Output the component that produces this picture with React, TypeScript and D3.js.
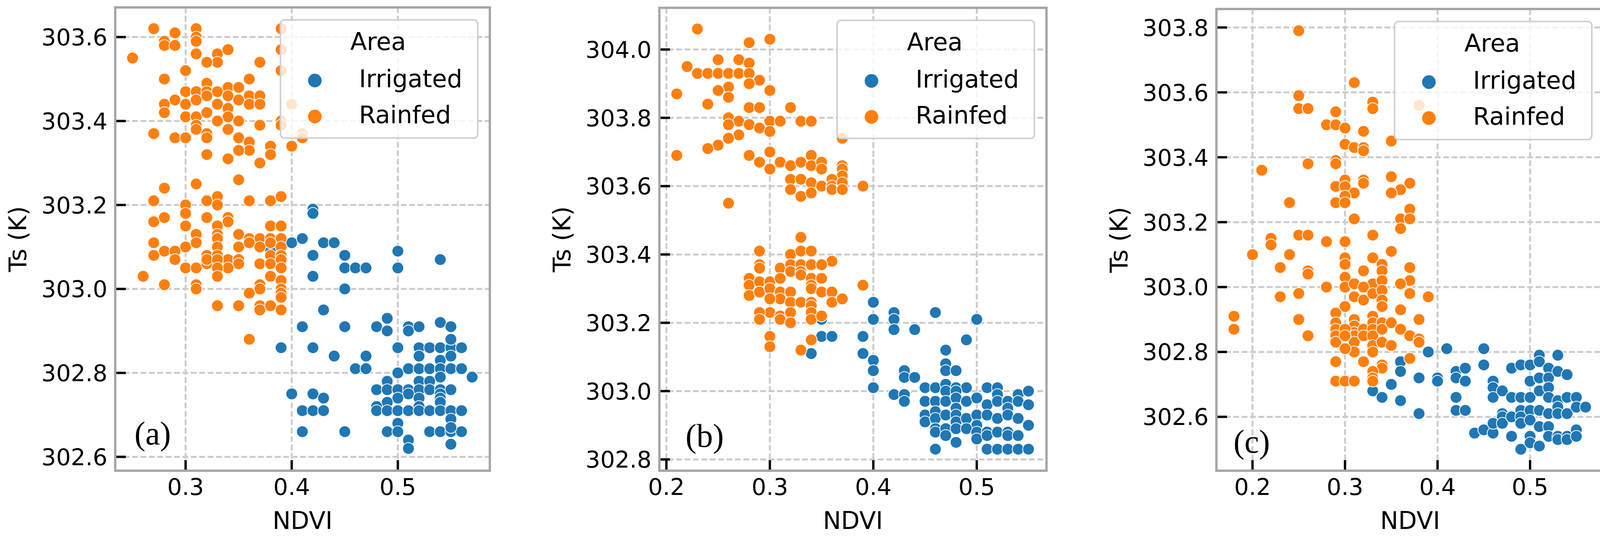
import * as d3 from 'd3';

type Pt = [number, number];

// panel (a)
const aIrrigated: Pt[] = [
  [0.42, 303.19], [0.42, 303.18], [0.40, 303.11], [0.41, 303.12], [0.43, 303.11], [0.44, 303.11], [0.38, 303.09],
  [0.42, 303.08], [0.45, 303.08], [0.50, 303.09], [0.54, 303.07], [0.45, 303.05], [0.46, 303.05], [0.47, 303.05],
  [0.50, 303.05], [0.42, 303.03], [0.45, 303.00], [0.43, 302.95], [0.41, 302.91], [0.45, 302.91], [0.48, 302.91],
  [0.49, 302.93], [0.49, 302.90], [0.51, 302.91], [0.51, 302.90], [0.52, 302.91], [0.54, 302.92], [0.55, 302.91],
  [0.39, 302.86], [0.42, 302.86], [0.44, 302.84], [0.47, 302.84], [0.46, 302.81], [0.47, 302.81], [0.50, 302.86],
  [0.52, 302.86], [0.53, 302.86], [0.54, 302.86], [0.55, 302.86], [0.56, 302.86], [0.55, 302.88], [0.52, 302.84],
  [0.54, 302.83], [0.55, 302.84], [0.50, 302.80], [0.51, 302.81], [0.52, 302.81], [0.53, 302.81], [0.54, 302.81],
  [0.55, 302.81], [0.56, 302.81], [0.57, 302.79], [0.54, 302.79], [0.49, 302.78], [0.52, 302.78], [0.53, 302.78],
  [0.40, 302.75], [0.42, 302.75], [0.43, 302.74], [0.48, 302.76], [0.49, 302.76], [0.50, 302.76], [0.51, 302.76],
  [0.52, 302.76], [0.53, 302.76], [0.54, 302.76], [0.55, 302.76], [0.51, 302.75], [0.54, 302.75], [0.50, 302.74],
  [0.52, 302.74], [0.54, 302.74], [0.49, 302.73], [0.48, 302.72], [0.52, 302.72], [0.54, 302.73], [0.41, 302.71],
  [0.42, 302.71], [0.43, 302.71], [0.48, 302.71], [0.49, 302.71], [0.50, 302.71], [0.51, 302.71], [0.52, 302.71],
  [0.53, 302.71], [0.54, 302.71], [0.55, 302.71], [0.56, 302.71], [0.55, 302.69], [0.50, 302.68], [0.41, 302.66],
  [0.45, 302.66], [0.49, 302.66], [0.50, 302.66], [0.53, 302.66], [0.54, 302.66], [0.55, 302.66], [0.56, 302.66],
  [0.55, 302.67], [0.51, 302.64], [0.51, 302.62], [0.55, 302.63],
];
const aRainfed: Pt[] = [
  [0.27, 303.62], [0.29, 303.61], [0.31, 303.62], [0.31, 303.60], [0.31, 303.59], [0.28, 303.59], [0.28, 303.58],
  [0.29, 303.58], [0.39, 303.62], [0.39, 303.57], [0.39, 303.52], [0.25, 303.55], [0.31, 303.56], [0.33, 303.56],
  [0.33, 303.54], [0.34, 303.57], [0.32, 303.54], [0.37, 303.54], [0.30, 303.52], [0.28, 303.50], [0.36, 303.50],
  [0.32, 303.49], [0.34, 303.48], [0.35, 303.48], [0.30, 303.47], [0.31, 303.47], [0.32, 303.47], [0.33, 303.47],
  [0.34, 303.46], [0.36, 303.46], [0.37, 303.46], [0.29, 303.45], [0.28, 303.44], [0.30, 303.44], [0.31, 303.45],
  [0.32, 303.46], [0.33, 303.44], [0.34, 303.43], [0.35, 303.45], [0.36, 303.44], [0.37, 303.44], [0.28, 303.42],
  [0.30, 303.41], [0.31, 303.41], [0.32, 303.42], [0.34, 303.41], [0.33, 303.40], [0.35, 303.40], [0.37, 303.39],
  [0.39, 303.40], [0.39, 303.39], [0.31, 303.39], [0.31, 303.38], [0.34, 303.38], [0.40, 303.44], [0.41, 303.37],
  [0.41, 303.36], [0.27, 303.37], [0.29, 303.36], [0.30, 303.36], [0.32, 303.37], [0.32, 303.36], [0.35, 303.36],
  [0.36, 303.35], [0.36, 303.33], [0.38, 303.34], [0.38, 303.32], [0.40, 303.34], [0.35, 303.33], [0.32, 303.32],
  [0.34, 303.31], [0.37, 303.30], [0.35, 303.26], [0.31, 303.25], [0.28, 303.24],
  [0.27, 303.21], [0.32, 303.21], [0.33, 303.22], [0.33, 303.20], [0.36, 303.21], [0.38, 303.21], [0.39, 303.22],
  [0.30, 303.20], [0.30, 303.18], [0.27, 303.16], [0.28, 303.17], [0.32, 303.17], [0.34, 303.17], [0.34, 303.16],
  [0.30, 303.15], [0.33, 303.15], [0.38, 303.15], [0.39, 303.15], [0.31, 303.13], [0.33, 303.13], [0.33, 303.12],
  [0.35, 303.13], [0.36, 303.12], [0.37, 303.12], [0.38, 303.12], [0.39, 303.12], [0.27, 303.11], [0.30, 303.10],
  [0.31, 303.11], [0.33, 303.10], [0.35, 303.10], [0.36, 303.11], [0.37, 303.10], [0.38, 303.11], [0.39, 303.10],
  [0.28, 303.09], [0.29, 303.09], [0.27, 303.08], [0.32, 303.08], [0.33, 303.08], [0.34, 303.07], [0.35, 303.07],
  [0.37, 303.06], [0.38, 303.08], [0.39, 303.08], [0.29, 303.07], [0.30, 303.05], [0.31, 303.05], [0.32, 303.06],
  [0.35, 303.06], [0.39, 303.06], [0.32, 303.07], [0.33, 303.07], [0.34, 303.05], [0.33, 303.05], [0.38, 303.06],
  [0.39, 303.07], [0.39, 303.05], [0.38, 303.03], [0.39, 303.02], [0.26, 303.03], [0.28, 303.01], [0.31, 303.01],
  [0.31, 303.00], [0.33, 303.03], [0.37, 303.01], [0.37, 303.00], [0.36, 302.99], [0.39, 303.00], [0.39, 302.99],
  [0.39, 302.98], [0.33, 302.96], [0.35, 302.96], [0.37, 302.96], [0.37, 302.95], [0.38, 302.96], [0.39, 302.95],
  [0.36, 302.88],
];

// panel (b)
const bIrrigated: Pt[] = [
  [0.35, 303.21], [0.35, 303.16], [0.36, 303.16], [0.34, 303.11], [0.40, 303.26], [0.40, 303.21], [0.39, 303.16],
  [0.39, 303.11], [0.40, 303.09], [0.40, 303.06], [0.40, 303.01], [0.42, 303.23], [0.42, 303.21], [0.42, 303.18],
  [0.44, 303.18], [0.46, 303.23], [0.50, 303.21], [0.49, 303.15], [0.47, 303.12], [0.47, 303.08], [0.47, 303.06],
  [0.48, 303.06], [0.43, 303.06], [0.43, 303.04], [0.44, 303.04], [0.42, 302.99], [0.43, 302.99], [0.43, 302.97],
  [0.45, 303.01], [0.46, 303.01], [0.47, 303.02], [0.48, 303.01], [0.49, 303.01], [0.47, 303.00], [0.48, 303.00],
  [0.51, 303.01], [0.52, 303.01], [0.52, 302.99], [0.54, 302.99], [0.55, 303.00], [0.45, 302.97], [0.46, 302.97],
  [0.47, 302.97], [0.48, 302.98], [0.49, 302.97], [0.50, 302.98], [0.51, 302.96], [0.52, 302.97], [0.53, 302.97],
  [0.54, 302.97], [0.55, 302.96], [0.45, 302.93], [0.45, 302.91], [0.46, 302.94], [0.46, 302.92], [0.47, 302.93],
  [0.48, 302.95], [0.48, 302.93], [0.48, 302.91], [0.49, 302.92], [0.50, 302.93], [0.50, 302.90], [0.51, 302.93],
  [0.52, 302.92], [0.53, 302.95], [0.53, 302.93], [0.54, 302.92], [0.55, 302.90], [0.46, 302.89], [0.46, 302.88],
  [0.47, 302.89], [0.48, 302.89], [0.49, 302.89], [0.50, 302.88], [0.51, 302.88], [0.47, 302.87], [0.50, 302.86],
  [0.51, 302.87], [0.52, 302.88], [0.53, 302.88], [0.53, 302.87], [0.54, 302.87], [0.48, 302.85], [0.46, 302.83],
  [0.51, 302.83], [0.52, 302.83], [0.53, 302.83], [0.54, 302.83], [0.55, 302.83],
];
const bRainfed: Pt[] = [
  [0.23, 304.06], [0.28, 304.02], [0.30, 304.03], [0.22, 303.95], [0.25, 303.97], [0.27, 303.97], [0.28, 303.96],
  [0.23, 303.93], [0.24, 303.93], [0.25, 303.93], [0.26, 303.93], [0.27, 303.93], [0.28, 303.93], [0.29, 303.91],
  [0.28, 303.90], [0.21, 303.87], [0.26, 303.89], [0.25, 303.88], [0.26, 303.86], [0.30, 303.88], [0.24, 303.84],
  [0.28, 303.83], [0.29, 303.83], [0.32, 303.83], [0.26, 303.80], [0.27, 303.79], [0.26, 303.78], [0.28, 303.78],
  [0.29, 303.77], [0.30, 303.79], [0.31, 303.79], [0.30, 303.76], [0.33, 303.79], [0.34, 303.79], [0.27, 303.75],
  [0.26, 303.74], [0.37, 303.74], [0.25, 303.72], [0.24, 303.71], [0.21, 303.69], [0.28, 303.69], [0.30, 303.70],
  [0.29, 303.67], [0.30, 303.65], [0.31, 303.67], [0.32, 303.66], [0.33, 303.67], [0.34, 303.69], [0.34, 303.66],
  [0.35, 303.67], [0.35, 303.65], [0.37, 303.66], [0.37, 303.65], [0.37, 303.63], [0.32, 303.62], [0.33, 303.62],
  [0.34, 303.61], [0.35, 303.60], [0.36, 303.62], [0.36, 303.60], [0.36, 303.59], [0.37, 303.61], [0.37, 303.59],
  [0.39, 303.60], [0.32, 303.59], [0.33, 303.57], [0.34, 303.58], [0.26, 303.55],
  [0.33, 303.45], [0.29, 303.41], [0.32, 303.40], [0.33, 303.41], [0.34, 303.41], [0.36, 303.38], [0.29, 303.37],
  [0.31, 303.36], [0.32, 303.37], [0.33, 303.37], [0.34, 303.37], [0.35, 303.37], [0.32, 303.35], [0.33, 303.35],
  [0.29, 303.36], [0.28, 303.33], [0.28, 303.31], [0.28, 303.28], [0.29, 303.32], [0.29, 303.29], [0.30, 303.32],
  [0.30, 303.30], [0.31, 303.33], [0.31, 303.29], [0.31, 303.27], [0.32, 303.29], [0.32, 303.26], [0.33, 303.34],
  [0.33, 303.26], [0.34, 303.33], [0.34, 303.31], [0.34, 303.30], [0.34, 303.26], [0.34, 303.25], [0.35, 303.33],
  [0.35, 303.29], [0.36, 303.29], [0.36, 303.26], [0.37, 303.27], [0.39, 303.31], [0.30, 303.27], [0.30, 303.23],
  [0.29, 303.23], [0.29, 303.21], [0.31, 303.22], [0.31, 303.21], [0.32, 303.23], [0.32, 303.20], [0.34, 303.23],
  [0.34, 303.21], [0.35, 303.22], [0.30, 303.16], [0.30, 303.13], [0.34, 303.15], [0.33, 303.12],
];

// panel (c)
const cIrrigated: Pt[] = [
  [0.33, 302.68], [0.34, 302.66], [0.35, 302.70], [0.36, 302.77], [0.36, 302.74], [0.36, 302.65], [0.38, 302.72],
  [0.38, 302.61], [0.39, 302.80], [0.40, 302.72], [0.40, 302.71], [0.41, 302.81], [0.42, 302.74], [0.42, 302.72],
  [0.43, 302.75], [0.43, 302.71], [0.42, 302.66], [0.42, 302.62], [0.43, 302.62], [0.45, 302.81], [0.45, 302.76],
  [0.44, 302.55], [0.45, 302.56], [0.46, 302.55], [0.46, 302.71], [0.46, 302.69], [0.46, 302.66], [0.47, 302.68],
  [0.46, 302.58], [0.47, 302.61], [0.47, 302.60], [0.47, 302.58], [0.48, 302.75], [0.48, 302.66], [0.48, 302.60],
  [0.48, 302.54], [0.49, 302.76], [0.49, 302.66], [0.49, 302.62], [0.49, 302.60], [0.49, 302.58], [0.49, 302.50],
  [0.50, 302.76], [0.50, 302.71], [0.50, 302.66], [0.50, 302.62], [0.50, 302.59], [0.50, 302.54], [0.50, 302.52],
  [0.51, 302.79], [0.51, 302.77], [0.51, 302.72], [0.51, 302.68], [0.51, 302.62], [0.51, 302.57], [0.51, 302.51],
  [0.52, 302.75], [0.52, 302.72], [0.52, 302.69], [0.52, 302.66], [0.52, 302.61], [0.52, 302.57], [0.52, 302.54],
  [0.53, 302.79], [0.53, 302.74], [0.53, 302.65], [0.53, 302.63], [0.53, 302.61], [0.53, 302.54], [0.53, 302.53],
  [0.54, 302.73], [0.54, 302.66], [0.54, 302.61], [0.54, 302.54], [0.54, 302.53], [0.55, 302.66], [0.55, 302.63],
  [0.55, 302.56], [0.55, 302.54], [0.56, 302.63],
];
const cRainfed: Pt[] = [
  [0.25, 303.79], [0.31, 303.63], [0.25, 303.59], [0.25, 303.55], [0.26, 303.55], [0.33, 303.57], [0.33, 303.55],
  [0.29, 303.54], [0.28, 303.50], [0.29, 303.50], [0.30, 303.49], [0.32, 303.48], [0.35, 303.45], [0.38, 303.56],
  [0.30, 303.44], [0.31, 303.43], [0.32, 303.43], [0.32, 303.42], [0.29, 303.39], [0.29, 303.38], [0.26, 303.38],
  [0.21, 303.36], [0.30, 303.33], [0.32, 303.33], [0.35, 303.34], [0.29, 303.31], [0.30, 303.31], [0.32, 303.32],
  [0.31, 303.29], [0.30, 303.28], [0.29, 303.26], [0.30, 303.26], [0.37, 303.32], [0.36, 303.30], [0.35, 303.29],
  [0.24, 303.26], [0.37, 303.24], [0.36, 303.21], [0.37, 303.21], [0.36, 303.18], [0.31, 303.21], [0.22, 303.15],
  [0.22, 303.13], [0.25, 303.16], [0.26, 303.16], [0.28, 303.14], [0.30, 303.14], [0.33, 303.16], [0.20, 303.10],
  [0.24, 303.10], [0.35, 303.11], [0.30, 303.09], [0.30, 303.07], [0.33, 303.09], [0.23, 303.06], [0.26, 303.05],
  [0.32, 303.05], [0.34, 303.07], [0.34, 303.05], [0.37, 303.06], [0.26, 303.04], [0.33, 303.01], [0.37, 303.02],
  [0.28, 303.00], [0.30, 303.03], [0.30, 303.00], [0.31, 303.01], [0.31, 302.97], [0.32, 303.00], [0.32, 302.96],
  [0.33, 302.98], [0.34, 303.02], [0.34, 302.99], [0.34, 302.96], [0.34, 302.94], [0.36, 303.01], [0.37, 302.98],
  [0.39, 302.97], [0.23, 302.97], [0.25, 302.98], [0.30, 302.94], [0.29, 302.92], [0.29, 302.89], [0.29, 302.87],
  [0.29, 302.85], [0.29, 302.83], [0.31, 302.90], [0.31, 302.88], [0.31, 302.86], [0.31, 302.85], [0.31, 302.83],
  [0.31, 302.80], [0.30, 302.87], [0.30, 302.85], [0.30, 302.81], [0.32, 302.87], [0.32, 302.85], [0.32, 302.77],
  [0.33, 302.91], [0.33, 302.89], [0.33, 302.87], [0.33, 302.85], [0.33, 302.82], [0.33, 302.80], [0.34, 302.89],
  [0.34, 302.87], [0.34, 302.83], [0.34, 302.76], [0.34, 302.75], [0.35, 302.89], [0.35, 302.82], [0.36, 302.93],
  [0.36, 302.87], [0.37, 302.85], [0.37, 302.78], [0.38, 302.90], [0.38, 302.84], [0.38, 302.83], [0.18, 302.91],
  [0.18, 302.87], [0.25, 302.90], [0.26, 302.85], [0.29, 302.77], [0.29, 302.71], [0.30, 302.71], [0.31, 302.71],
  [0.33, 302.74], [0.33, 302.72], [0.33, 302.71],
];

const aXTicks = [0.3, 0.4, 0.5];
const aYTicks = [302.6, 302.8, 303.0, 303.2, 303.4, 303.6];
const bXTicks = [0.2, 0.3, 0.4, 0.5];
const bYTicks = [302.8, 303.0, 303.2, 303.4, 303.6, 303.8, 304.0];
const cXTicks = [0.2, 0.3, 0.4, 0.5];
const cYTicks = [302.6, 302.8, 303.0, 303.2, 303.4, 303.6, 303.8];

const seriesNames = ['Irrigated', 'Rainfed'];
const seriesColors = ['#1f77b4', '#ff7f0e'];

const FONT = 'DejaVu Sans, sans-serif';

type PanelProps = {
  left: number;
  right: number;
  top: number;
  bottom: number;
  xDomain: [number, number];
  yDomain: [number, number];
  xTicks: number[];
  yTicks: number[];
  irrigated: Pt[];
  rainfed: Pt[];
  tag: string;
  tagAt: Pt;
};

function Panel(p: PanelProps) {
  const x = d3.scaleLinear().domain(p.xDomain).range([p.left, p.right]);
  const y = d3.scaleLinear().domain(p.yDomain).range([p.bottom, p.top]);
  const gridStyle = { stroke: '#cccccc', strokeWidth: 5, strokeDasharray: '15 6.5' };
  const lx = p.right - 31 - 505;
  const ly = p.top + 32;
  return (
    <g>
      {p.xTicks.map((t) => (
        <line key={'gx' + t} x1={x(t)} x2={x(t)} y1={p.top} y2={p.bottom} {...gridStyle} />
      ))}
      {p.yTicks.map((t) => (
        <line key={'gy' + t} x1={p.left} x2={p.right} y1={y(t)} y2={y(t)} {...gridStyle} />
      ))}
      {[p.irrigated, p.rainfed].map((s, i) => (
        <g key={'s' + i}>
          {s.map((d, j) => (
            <circle key={j} cx={x(d[0])} cy={y(d[1])} r={15} fill={seriesColors[i]} stroke="#ffffff" strokeWidth={2} />
          ))}
        </g>
      ))}
      <text x={x(p.tagAt[0])} y={y(p.tagAt[1])} fontFamily="Liberation Serif, serif" fontSize={84} fill="#000">
        {p.tag}
      </text>
      {p.xTicks.map((t) => (
        <g key={'tx' + t}>
          <line x1={x(t)} x2={x(t)} y1={p.bottom} y2={p.bottom - 27} stroke="#000" strokeWidth={6} />
          <text x={x(t)} y={p.bottom + 62} textAnchor="middle" fontFamily={FONT} fontSize={59}>
            {d3.format('.1f')(t)}
          </text>
        </g>
      ))}
      {p.yTicks.map((t) => (
        <g key={'ty' + t}>
          <line x1={p.left} x2={p.left + 27} y1={y(t)} y2={y(t)} stroke="#000" strokeWidth={6} />
          <text x={p.left - 20} y={y(t)} dy="0.36em" textAnchor="end" fontFamily={FONT} fontSize={59}>
            {d3.format('.1f')(t)}
          </text>
        </g>
      ))}
      <rect x={p.left} y={p.top} width={p.right - p.left} height={p.bottom - p.top} fill="none" stroke="#a6a6a6" strokeWidth={6} />
      <text x={(p.left + p.right) / 2} y={1353} textAnchor="middle" fontFamily={FONT} fontSize={62}>
        NDVI
      </text>
      <text
        transform={`translate(${p.left - 228},${(p.top + p.bottom) / 2}) rotate(-90)`}
        textAnchor="middle"
        fontFamily={FONT}
        fontSize={62}
      >
        Ts (K)
      </text>
      <g transform={`translate(${lx},${ly})`}>
        <rect width={505} height={302} rx={10} fill="#ffffff" fillOpacity={0.8} stroke="#d0d0d0" strokeWidth={4} />
        <text x={250} y={77} textAnchor="middle" fontFamily={FONT} fontSize={62}>
          Area
        </text>
        {seriesNames.map((n, i) => (
          <g key={n}>
            <circle cx={88} cy={155 + i * 92} r={17.5} fill={seriesColors[i]} />
            <text x={201} y={172 + i * 92} fontFamily={FONT} fontSize={62}>
              {n}
            </text>
          </g>
        ))}
      </g>
    </g>
  );
}

export default function App() {
  return (
    <svg width={4119} height={1371} style={{ position: 'absolute', left: 0, top: 0, background: '#fff' }}>
      <rect width={4119} height={1371} fill="#fff" />
      <Panel
        left={295}
        right={1254}
        top={19}
        bottom={1204}
        xDomain={[0.2337, 0.5867]}
        yDomain={[302.567, 303.6706]}
        xTicks={aXTicks}
        yTicks={aYTicks}
        irrigated={aIrrigated}
        rainfed={aRainfed}
        tag="(a)"
        tagAt={[0.2518, 302.629]}
      />
      <Panel
        left={1688}
        right={2679}
        top={20}
        bottom={1204}
        xDomain={[0.1932, 0.5674]}
        yDomain={[302.767, 304.122]}
        xTicks={bXTicks}
        yTicks={bYTicks}
        irrigated={bIrrigated}
        rainfed={bRainfed}
        tag="(b)"
        tagAt={[0.2185, 302.837]}
      />
      <Panel
        left={3114}
        right={4106}
        top={23}
        bottom={1204}
        xDomain={[0.161, 0.5798]}
        yDomain={[302.434, 303.857]}
        xTicks={cXTicks}
        yTicks={cYTicks}
        irrigated={cIrrigated}
        rainfed={cRainfed}
        tag="(c)"
        tagAt={[0.1795, 302.489]}
      />
    </svg>
  );
}
